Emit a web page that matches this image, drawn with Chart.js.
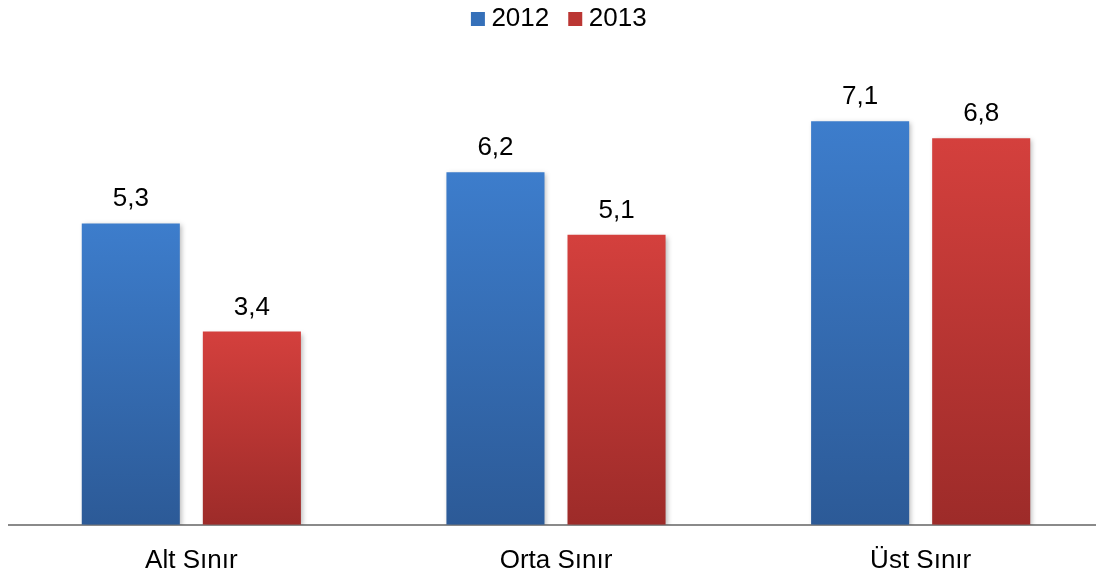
<!DOCTYPE html>
<html>
<head>
<meta charset="utf-8">
<script src="https://cdn.jsdelivr.net/npm/chart.js@4.4.0/dist/chart.umd.min.js"></script>
<style>
  html, body { margin: 0; padding: 0; background: #fff; overflow: hidden; }
  #wrap { width: 1104px; height: 596px; position: relative; }
</style>
</head>
<body>
<div id="wrap"><canvas id="chart"></canvas></div>
<script>
const categories = ["Alt Sınır", "Orta Sınır", "Üst Sınır"];
const values2012 = [5.3, 6.2, 7.1];
const values2013 = [3.4, 5.1, 6.8];
const seriesNames = ["2012", "2013"];

const FONT = "'Liberation Sans', Arial, sans-serif";

// vertical gradient per bar, top lighter, bottom darker
function barGradient(top, bottom) {
  return ctx => {
    const chart = ctx.chart;
    const area = chart.chartArea;
    if (!area || ctx.type !== "data") return bottom;
    const y = chart.scales.y;
    const yTop = y.getPixelForValue(ctx.raw);
    const g = chart.ctx.createLinearGradient(0, yTop, 0, area.bottom);
    g.addColorStop(0, top);
    g.addColorStop(1, bottom);
    return g;
  };
}

const valueLabels = {
  id: "valueLabels",
  afterDatasetsDraw(chart) {
    const ctx = chart.ctx;
    ctx.save();
    ctx.font = "26px " + FONT;
    ctx.fillStyle = "#000";
    ctx.textAlign = "center";
    ctx.textBaseline = "alphabetic";
    chart.data.datasets.forEach((ds, i) => {
      chart.getDatasetMeta(i).data.forEach((bar, j) => {
        const txt = ds.data[j].toFixed(1).replace(".", ",");
        ctx.fillText(txt, bar.x, bar.y - 17);
      });
    });
    ctx.restore();
  }
};

const barShadow = {
  id: "barShadow",
  beforeDatasetsDraw(chart) {
    const ctx = chart.ctx;
    ctx.save();
    ctx.shadowColor = "rgba(0,0,0,0.28)";
    ctx.shadowBlur = 5;
    ctx.shadowOffsetX = 2;
    ctx.shadowOffsetY = 2;
  },
  afterDatasetsDraw(chart) {
    chart.ctx.restore();
  }
};

// extra room under the legend, and nudge it a bit to the right
const legendSpace = {
  id: "legendSpace",
  beforeInit(chart) {
    const fit = chart.legend.fit;
    chart.legend.fit = function () {
      fit.call(this);
      this.height += 28;
    };
  },
  afterLayout(chart) {
    chart.legend.left += 6;
    chart.legend.right += 6;
  }
};

new Chart(document.getElementById("chart"), {
  type: "bar",
  data: {
    labels: categories,
    datasets: [
      {
        label: seriesNames[0],
        data: values2012,
        backgroundColor: barGradient("#3d7dcc", "#2c5a97"),
        categoryPercentage: 0.664,
        barPercentage: 0.81
      },
      {
        label: seriesNames[1],
        data: values2013,
        backgroundColor: barGradient("#d4403d", "#9d2b29"),
        categoryPercentage: 0.664,
        barPercentage: 0.81
      }
    ]
  },
  options: {
    responsive: true,
    maintainAspectRatio: false,
    animation: false,
    layout: { padding: { left: 9, right: 1, top: -19.5, bottom: 0 } },
    plugins: {
      tooltip: { enabled: false },
      legend: {
        position: "top",
        labels: {
          color: "#000",
          font: { family: FONT, size: 26 },
          usePointStyle: true,
          boxWidth: 1,
          boxHeight: 14,
          padding: 25.5,
          generateLabels(chart) {
            const fills = ["#3570b9", "#bb3633"];
            return chart.data.datasets.map((ds, i) => ({
              text: ds.label,
              fillStyle: fills[i],
              strokeStyle: fills[i],
              lineWidth: 0,
              pointStyle: "rect",
              datasetIndex: i
            }));
          }
        }
      }
    },
    scales: {
      x: {
        grid: { display: false, drawTicks: false },
        border: { display: true, color: "#8a8a8a", width: 2 },
        ticks: { color: "#000", font: { family: FONT, size: 26 }, padding: 20 }
      },
      y: {
        display: false,
        min: 0,
        max: 8
      }
    }
  },
  plugins: [barShadow, valueLabels, legendSpace]
});
</script>
</body>
</html>
